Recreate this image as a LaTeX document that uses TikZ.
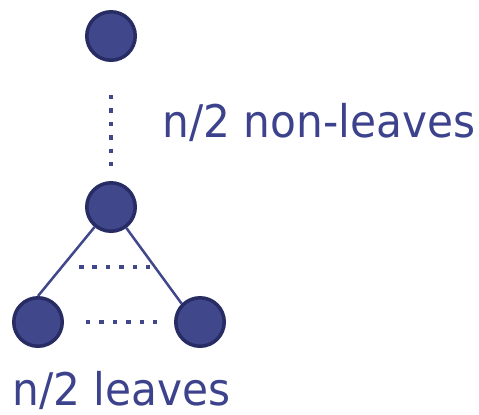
\documentclass[tikz,border=0pt]{standalone}
\usepackage{fontspec}
\setmainfont[FakeStretch=0.94]{DejaVu Sans}

\definecolor{nodeblue}{RGB}{64,71,138}
\definecolor{rimblue}{RGB}{40,44,100}
\definecolor{textblue}{RGB}{60,66,140}

\tikzstyle{vertex} = [circle, inner sep=0, minimum size=0.97cm, fill=nodeblue, draw=rimblue, line width=0.07cm]
\tikzstyle{edge} = [draw=nodeblue, line width=0.05cm]
\tikzstyle{dots} = [draw=nodeblue, line width=0.09cm, dash pattern=on 0.09cm off 0.178cm]
\tikzstyle{count} = [text=textblue, inner sep=0, anchor=base west, font=\fontsize{25.6}{30}\selectfont]

\begin{document}
\begin{tikzpicture}[x=0.02cm, y=-0.02cm]
		\useasboundingbox (0,0) rectangle (479,414);
		% Nodes
		\node (root) [vertex] at (111, 36) {};
		\node (mid) [vertex] at (111, 207) {};
		\node (left) [vertex] at (38, 322) {};
		\node (right) [vertex] at (200, 322) {};
		\coordinate (gapl) at (79, 267);
		\coordinate (gapr) at (150, 267);
		% Edges
		\draw [edge] (mid) -- (left.north);
		\draw [edge] (mid) -- (right.north west);
		\draw [dots, shorten <=0.66cm, shorten >=0.26cm] (root) -- (mid);
		\draw [dots] (gapl) -- (gapr);
		\draw [dots, shorten <=0.44cm, shorten >=0.34cm] (left) -- (right);
		% Labels
		\node (inner) [count] at (162, 137) {n/2 non-leaves};
		\node (leaves) [count] at (12, 405) {n/2 leaves};
	\end{tikzpicture}
\end{document}
